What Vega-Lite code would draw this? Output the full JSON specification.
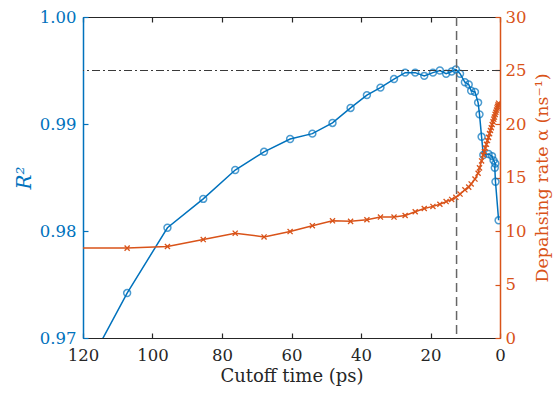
{
  "$schema": "https://vega.github.io/schema/vega-lite/v6.json",
  "width": 417,
  "height": 321,
  "autosize": {"type": "none"},
  "padding": {"left": 83, "top": 17, "right": 56, "bottom": 55},
  "background": "white",
  "config": {
    "view": {"stroke": null},
    "font": "DejaVu Serif",
    "axis": {"grid": false, "labelFont": "DejaVu Serif", "titleFont": "DejaVu Serif", "labelFontSize": 16.5, "titleFontSize": 17.5, "titleFontWeight": "normal", "domainWidth": 1.2, "tickWidth": 1.2}
  },
  "datasets": {
    "blue": [
      {"i": 0, "t": 121, "r2": 0.9659},
      {"i": 1, "t": 107.3, "r2": 0.9742},
      {"i": 2, "t": 95.7, "r2": 0.9803},
      {"i": 3, "t": 85.4, "r2": 0.9830},
      {"i": 4, "t": 76.2, "r2": 0.9857},
      {"i": 5, "t": 67.9, "r2": 0.9874},
      {"i": 6, "t": 60.4, "r2": 0.9886},
      {"i": 7, "t": 54.0, "r2": 0.9891},
      {"i": 8, "t": 48.2, "r2": 0.9901},
      {"i": 9, "t": 43.0, "r2": 0.9915},
      {"i": 10, "t": 38.3, "r2": 0.9927},
      {"i": 11, "t": 34.4, "r2": 0.9934},
      {"i": 12, "t": 30.5, "r2": 0.9942},
      {"i": 13, "t": 27.3, "r2": 0.9948},
      {"i": 14, "t": 24.4, "r2": 0.9948},
      {"i": 15, "t": 21.8, "r2": 0.9945},
      {"i": 16, "t": 19.3, "r2": 0.9948},
      {"i": 17, "t": 17.3, "r2": 0.9950},
      {"i": 18, "t": 15.5, "r2": 0.9947},
      {"i": 19, "t": 13.9, "r2": 0.9949},
      {"i": 20, "t": 12.7, "r2": 0.9951},
      {"i": 21, "t": 11.5, "r2": 0.9947},
      {"i": 22, "t": 10.1, "r2": 0.9939},
      {"i": 23, "t": 9.0, "r2": 0.9937},
      {"i": 24, "t": 8.3, "r2": 0.9931},
      {"i": 25, "t": 7.2, "r2": 0.9930},
      {"i": 26, "t": 6.3, "r2": 0.9920},
      {"i": 27, "t": 5.9, "r2": 0.9909},
      {"i": 28, "t": 5.3, "r2": 0.9888},
      {"i": 29, "t": 4.8, "r2": 0.9871},
      {"i": 30, "t": 3.3, "r2": 0.9872},
      {"i": 31, "t": 2.3, "r2": 0.9870},
      {"i": 32, "t": 1.85, "r2": 0.9866},
      {"i": 33, "t": 1.35, "r2": 0.9863},
      {"i": 34, "t": 1.5, "r2": 0.9859},
      {"i": 35, "t": 1.3, "r2": 0.9846},
      {"i": 36, "t": 0.4, "r2": 0.9810}
    ],
    "orange": [
      {"t": 121, "a": 8.4},
      {"t": 107.3, "a": 8.4},
      {"t": 95.7, "a": 8.55},
      {"t": 85.4, "a": 9.2},
      {"t": 76.2, "a": 9.8},
      {"t": 67.9, "a": 9.45},
      {"t": 60.4, "a": 9.95},
      {"t": 54.0, "a": 10.5},
      {"t": 48.2, "a": 10.95},
      {"t": 43.0, "a": 10.9},
      {"t": 38.3, "a": 11.05},
      {"t": 34.4, "a": 11.3},
      {"t": 30.5, "a": 11.3},
      {"t": 27.3, "a": 11.45},
      {"t": 24.4, "a": 11.8},
      {"t": 21.8, "a": 12.1},
      {"t": 19.3, "a": 12.3},
      {"t": 17.3, "a": 12.5},
      {"t": 15.5, "a": 12.75},
      {"t": 13.9, "a": 12.95},
      {"t": 12.7, "a": 13.15},
      {"t": 11.5, "a": 13.45},
      {"t": 10.1, "a": 13.85},
      {"t": 9.0, "a": 14.1},
      {"t": 8.3, "a": 14.4},
      {"t": 7.2, "a": 14.85},
      {"t": 6.3, "a": 15.4},
      {"t": 5.9, "a": 15.9},
      {"t": 5.3, "a": 16.55},
      {"t": 4.8, "a": 17.1},
      {"t": 4.5, "a": 17.4},
      {"t": 4.2, "a": 17.75},
      {"t": 3.9, "a": 18.1},
      {"t": 3.6, "a": 18.45},
      {"t": 3.3, "a": 18.75},
      {"t": 3.0, "a": 19.1},
      {"t": 2.75, "a": 19.4},
      {"t": 2.5, "a": 19.65},
      {"t": 2.25, "a": 19.95},
      {"t": 2.0, "a": 20.2},
      {"t": 1.8, "a": 20.45},
      {"t": 1.6, "a": 20.65},
      {"t": 1.4, "a": 20.9},
      {"t": 1.2, "a": 21.1},
      {"t": 1.0, "a": 21.3},
      {"t": 0.85, "a": 21.5},
      {"t": 0.7, "a": 21.65},
      {"t": 0.55, "a": 21.8},
      {"t": 0.4, "a": 21.95}
    ]
  },
  "layer": [
    {
      "layer": [
        {
          "data": {"name": "blue"},
          "mark": {"type": "line", "color": "#0072BD", "strokeWidth": 1.5, "clip": true},
          "encoding": {
            "x": {"field": "t", "type": "quantitative",
              "scale": {"domain": [0, 120], "reverse": true, "nice": false, "zero": false},
              "axis": {"orient": "bottom", "title": "Cutoff time (ps)", "titleFontSize": 18, "values": [0, 20, 40, 60, 80, 100, 120], "tickSize": -5, "labelPadding": 14, "titlePadding": 4, "domainColor": "#262626", "tickColor": "#262626", "labelColor": "#262626", "titleColor": "#262626", "labelFlush": false}},
            "y": {"field": "r2", "type": "quantitative",
              "scale": {"domain": [0.97, 1.0], "nice": false, "zero": false},
              "axis": {"orient": "left", "title": "R²", "titleFontSize": 20, "titleFontStyle": "italic", "values": [0.97, 0.98, 0.99, 1.0], "format": ".2f", "tickSize": -5, "labelPadding": 12, "titlePadding": 5, "domainColor": "#0072BD", "domainWidth": 1.5, "tickColor": "#0072BD", "labelColor": "#0072BD", "titleColor": "#0072BD", "labelFlush": false}},
            "order": {"field": "i", "type": "quantitative"}
          }
        },
        {
          "data": {"name": "blue"},
          "mark": {"type": "point", "shape": "circle", "filled": false, "color": "#0072BD", "size": 48, "strokeWidth": 1.5, "clip": true},
          "encoding": {
            "x": {"field": "t", "type": "quantitative"},
            "y": {"field": "r2", "type": "quantitative"}
          }
        },
        {
          "data": {"values": [{"v": 0.995}]},
          "mark": {"type": "rule", "color": "#3a3a3a", "strokeWidth": 1.2, "strokeDash": [8, 3, 2, 3]},
          "encoding": {"y": {"field": "v", "type": "quantitative"}}
        },
        {
          "data": {"values": [{"c": 12.5}]},
          "mark": {"type": "rule", "color": "#666666", "strokeWidth": 1.5, "strokeDash": [9, 5]},
          "encoding": {"x": {"field": "c", "type": "quantitative"}}
        }
      ]
    },
    {
      "data": {"name": "orange"},
      "encoding": {
        "x": {"field": "t", "type": "quantitative",
          "axis": {"orient": "top", "title": null, "labels": false, "values": [0, 20, 40, 60, 80, 100, 120], "tickSize": -5, "domainColor": "#262626", "tickColor": "#262626"}},
        "y": {"field": "a", "type": "quantitative",
          "scale": {"domain": [0, 30], "nice": false, "zero": false},
          "axis": {"orient": "right", "title": "Depahsing rate α (ns⁻¹)", "titleAngle": -90, "titleBaseline": "top", "values": [0, 5, 10, 15, 20, 25, 30], "tickSize": -5, "labelPadding": 10, "titlePadding": 8, "domainColor": "#D95319", "domainWidth": 1.5, "tickColor": "#D95319", "labelColor": "#D95319", "titleColor": "#D95319", "labelFlush": false}}
      },
      "layer": [
        {"mark": {"type": "line", "color": "#D95319", "strokeWidth": 1.5, "clip": true}},
        {"mark": {"type": "point", "shape": "M-1,-1L1,1M-1,1L1,-1", "filled": false, "color": "#D95319", "size": 26, "strokeWidth": 1.3, "opacity": 1, "clip": true}}
      ]
    }
  ],
  "resolve": {"scale": {"y": "independent"}, "axis": {"x": "independent"}}
}
